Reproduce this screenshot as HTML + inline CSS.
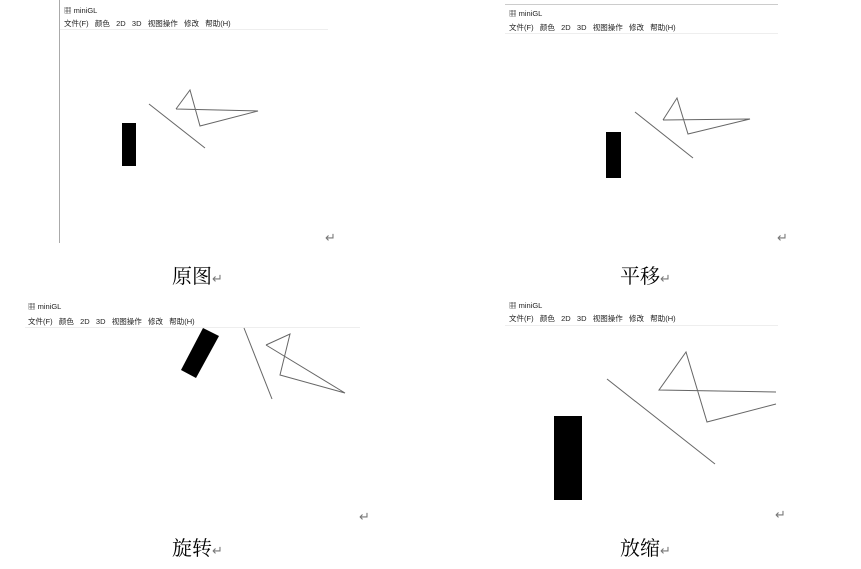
<!DOCTYPE html>
<html><head><meta charset="utf-8"><style>
html,body{margin:0;padding:0;background:#fff;width:861px;height:569px;overflow:hidden}
svg{display:block}
.t{font-family:"Liberation Sans","Noto Sans CJK SC",sans-serif;font-size:7.5px;fill:#222}
.cap{font-family:"Liberation Serif","Noto Serif CJK SC",serif;font-size:20px;fill:#000}
.ret{font-family:"Liberation Sans","Noto Sans CJK SC",sans-serif;font-size:13px;fill:#777}
.ln{stroke:#666;stroke-width:1;fill:none}
</style></head><body>
<svg width="861" height="569" viewBox="0 0 861 569">
<!-- panel 1 -->
<g>
<line x1="59.5" y1="0" x2="59.5" y2="243" stroke="#aaa"/>
<text x="64" y="13" class="t">▦ miniGL</text>
<text x="64" y="26" class="t" xml:space="preserve">文件(F)   颜色   2D   3D   视图操作   修改   帮助(H)</text>
<line x1="60" y1="29.5" x2="328" y2="29.5" stroke="#eee"/>
<rect x="122" y="123" width="14" height="43" fill="#000"/>
<line x1="149" y1="104" x2="205" y2="148" class="ln"/>
<polyline points="176,109 190,90 200,126 258,111 176,109" class="ln"/>
<text x="325" y="242" class="ret">↵</text>
<text x="172" y="283" class="cap">原图<tspan class="ret" font-size="14">↵</tspan></text>
</g>
<!-- panel 2 -->
<g>
<line x1="505" y1="4.5" x2="778" y2="4.5" stroke="#ccc"/>
<text x="509" y="16" class="t">▦ miniGL</text>
<text x="509" y="30" class="t" xml:space="preserve">文件(F)   颜色   2D   3D   视图操作   修改   帮助(H)</text>
<line x1="505" y1="33.5" x2="778" y2="33.5" stroke="#eee"/>
<rect x="606" y="132" width="15" height="46" fill="#000"/>
<line x1="635" y1="112" x2="693" y2="158" class="ln"/>
<polyline points="663,120 677,98 688,134 750,119 663,120" class="ln"/>
<text x="777" y="242" class="ret">↵</text>
<text x="620" y="283" class="cap">平移<tspan class="ret" font-size="14">↵</tspan></text>
</g>
<!-- panel 3 -->
<g>
<text x="28" y="309" class="t">▦ miniGL</text>
<text x="28" y="324" class="t" xml:space="preserve">文件(F)   颜色   2D   3D   视图操作   修改   帮助(H)</text>
<line x1="25" y1="327.5" x2="360" y2="327.5" stroke="#eee"/>
<polygon points="203,328 219,336 196,378 181,370" fill="#000"/>
<line x1="244" y1="328" x2="272" y2="399" class="ln"/>
<polyline points="266,345 290,334 280,375 345,393 266,345" class="ln"/>
<text x="359" y="521" class="ret">↵</text>
<text x="172" y="555" class="cap">旋转<tspan class="ret" font-size="14">↵</tspan></text>
</g>
<!-- panel 4 -->
<g>
<text x="509" y="308" class="t">▦ miniGL</text>
<text x="509" y="321" class="t" xml:space="preserve">文件(F)   颜色   2D   3D   视图操作   修改   帮助(H)</text>
<line x1="505" y1="325.5" x2="778" y2="325.5" stroke="#eee"/>
<rect x="554" y="416" width="28" height="84" fill="#000"/>
<line x1="607" y1="379" x2="715" y2="464" class="ln"/>
<polyline points="776,392 659,390 686,352 707,422 776,404" class="ln"/>
<text x="775" y="519" class="ret">↵</text>
<text x="620" y="555" class="cap">放缩<tspan class="ret" font-size="14">↵</tspan></text>
</g>
</svg>
</body></html>
